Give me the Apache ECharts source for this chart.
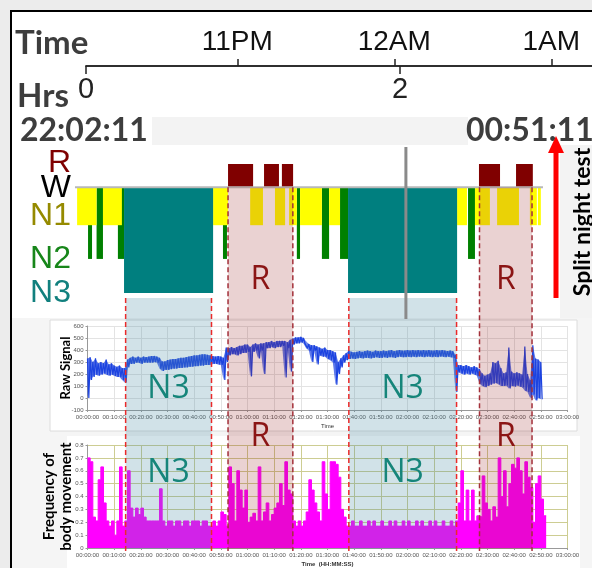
<!DOCTYPE html>
<html>
<head>
<meta charset="utf-8">
<script src="https://cdn.jsdelivr.net/npm/echarts@6/dist/echarts.min.js"></script>
<style>
html, body { margin: 0; padding: 0; background: #ececec; }
#main { width: 592px; height: 568px; }
</style>
</head>
<body>
<div id="main"></div>
<script>
// top time axes
var startClock = 22 + 2 / 60 + 11 / 3600;
var clockTicks = [23, 24, 25];
var clockNames = ['11PM', '12AM', '1AM'];
var hrsTicks = [0, 2];
var startLabel = '22:02:11';
var splitLabel = '00:51:11';

// hypnogram, spans in minutes from recording start
var stageNames = ['R', 'W', 'N1', 'N2', 'N3'];
var stageDepth = { R: -0.7, W: 0, N1: 1.15, N2: 2.17, N3: 3.2 };
var hypnoR = [[52.7, 62.1], [66.2, 71.8], [72.9, 77.1], [146.8, 154.7], [160.7, 167]];
var hypnoN1 = [[-3.9, 3.4], [5.8, 12.9], [47.1, 52.7], [61, 65.8], [70.3, 74.1], [75.6, 78.5],
    [79.7, 87.9], [90.6, 94.7], [138.6, 142.3], [145.3, 150.9], [153.6, 161.8], [165.9, 168.5], [168.9, 170]];
var hypnoN2 = [[0.2, 1.7], [3.4, 5.8], [11.4, 13.7], [50.8, 52.3], [78.5, 79.7], [87.9, 90.6],
    [94.7, 97.7], [142.7, 145.3]];
var hypnoN3 = [[13.7, 47.1], [97.7, 138.6]];
var wakeLine = [-4.7, 170.8];
var splitMark = 119.4;

// scored regions
var n3Bands = [[14.3, 46.5], [98, 138.4]];
var remBands = [[52.7, 77], [147, 166.7]];

// raw signal envelope, one pair per minute
var rawHi = [330, 340, 300, 330, 290, 300, 290, 320, 280, 290,
    270, 260, 270, 250, 250, 320, 335, 345, 335, 345,
    335, 345, 340, 345, 350, 350, 345, 335, 305, 305,
    315, 320, 325, 325, 330, 335, 335, 340, 345, 350,
    355, 355, 360, 365, 365, 360, 355, 350, 345, 350,
    345, 335, 420, 415, 425, 415, 425, 435, 435, 445,
    445, 425, 445, 455, 445, 455, 455, 465, 465, 475,
    465, 475, 475, 475, 475, 465, 485, 495, 505, 505,
    510, 500, 470, 450, 440, 440, 430, 420, 410, 420,
    400, 400, 390, 380, 300, 330, 355, 375, 395, 385,
    380, 385, 390, 385, 390, 395, 390, 385, 395, 390,
    390, 395, 390, 395, 400, 390, 395, 400, 395, 395,
    400, 395, 400, 395, 400, 395, 400, 395, 400, 395,
    395, 400, 395, 400, 395, 390, 395, 390, 360, 275,
    275, 265, 275, 265, 255, 265, 255, 240, 205, 185,
    195, 205, 300, 290, 310, 250, 205, 215, 420, 220,
    205, 215, 205, 195, 430, 200, 150, 440, 330, 320,
    300];
var rawLo = [0, 150, 175, 195, 185, 195, 205, 195, 185, 195,
    185, 175, 175, 150, 130, 255, 285, 285, 295, 295,
    285, 295, 295, 295, 295, 300, 295, 245, 225, 235,
    235, 240, 245, 245, 250, 250, 255, 255, 260, 260,
    265, 265, 270, 270, 275, 275, 275, 285, 285, 280,
    275, 150, 300, 355, 365, 365, 355, 365, 375, 375,
    385, 180, 385, 395, 330, 395, 200, 415, 415, 425,
    415, 425, 425, 435, 170, 415, 220, 445, 455, 455,
    465, 455, 415, 395, 300, 395, 280, 355, 345, 345,
    325, 315, 295, 110, 200, 255, 295, 315, 325, 330,
    325, 330, 335, 330, 335, 335, 330, 335, 340, 335,
    335, 340, 335, 340, 340, 335, 340, 345, 340, 340,
    345, 340, 345, 340, 345, 345, 340, 345, 345, 340,
    345, 340, 345, 345, 340, 345, 340, 335, 50, 215,
    205, 195, 205, 195, 205, 195, 185, 120, 100, 90,
    100, 110, 120, 125, 115, 100, 100, 105, 80, 100,
    95, 105, 95, 90, 60, 50, 0, 30, -20, 0,
    -10];

// body movement frequency, one value per minute
var moveFreq = [0.70, 0.67, 0.24, 0.21, 0.53, 0.63, 0.35, 0.21, 0.17, 0.21,
    0.10, 0.21, 0.63, 0.17, 0.21, 0.60, 0.31, 0.24, 0.31, 0.26,
    0.31, 0.24, 0.21, 0.21, 0.21, 0.21, 0.21, 0.46, 0.21, 0.17,
    0.21, 0.21, 0.17, 0.21, 0.21, 0.17, 0.21, 0.21, 0.17, 0.21,
    0.21, 0.21, 0.17, 0.21, 0.21, 0.17, 0.17, 0.21, 0.17, 0.21,
    0.28, 0.26, 0.17, 0.63, 0.50, 0.21, 0.60, 0.45, 0.31, 0.45,
    0.20, 0.24, 0.27, 0.21, 0.63, 0.21, 0.28, 0.35, 0.21, 0.26,
    0.31, 0.35, 0.50, 0.33, 0.67, 0.45, 0.42, 0.21, 0.17, 0.21,
    0.17, 0.21, 0.28, 0.53, 0.45, 0.35, 0.28, 0.21, 0.67, 0.42,
    0.30, 0.67, 0.67, 0.65, 0.55, 0.30, 0.24, 0.17, 0.17, 0.21,
    0.17, 0.17, 0.21, 0.17, 0.17, 0.21, 0.17, 0.21, 0.17, 0.17,
    0.21, 0.17, 0.17, 0.21, 0.17, 0.21, 0.17, 0.17, 0.21, 0.17,
    0.21, 0.17, 0.17, 0.21, 0.17, 0.21, 0.17, 0.17, 0.21, 0.17,
    0.21, 0.17, 0.17, 0.21, 0.17, 0.17, 0.21, 0.17, 0.21, 0.35,
    0.60, 0.21, 0.45, 0.21, 0.45, 0.21, 0.25, 0.24, 0.56, 0.35,
    0.30, 0.21, 0.32, 0.24, 0.70, 0.40, 0.60, 0.32, 0.50, 0.65,
    0.62, 0.70, 0.60, 0.42, 0.67, 0.55, 0.47, 0.20, 0.50, 0.56,
    0.38, 0.25];

var chart = echarts.init(document.getElementById('main'));

var PX_MIN = 480 / 180;
var PLOT_LEFT = 87.5;
var HRS_MAX = 3.223;
var BAND_BOTTOM = 549;
var RAW_BLUE = '#1c43e0';

function hms(v) {
    var h = Math.floor(v / 60), m = v % 60;
    return '0' + h + ':' + (m < 10 ? '0' : '') + m + ':00';
}

var rawData = [], rawEnvelope = [];
for (var i = 0; i < rawHi.length; i++) {
    rawData.push([i, rawHi[i]]);
    rawData.push([i + 0.5, rawLo[i]]);
    if (i < rawHi.length - 1) {
        rawEnvelope.push([i, rawHi[i], rawLo[i], rawHi[i + 1], rawLo[i + 1]]);
    }
}
var freqData = [];
for (var j = 0; j < moveFreq.length; j++) {
    freqData.push([j, moveFreq[j]]);
}
freqData.push([moveFreq.length, moveFreq[moveFreq.length - 1]]);

function stageSeries(spans, stage, color) {
    return {
        type: 'custom',
        xAxisIndex: 2,
        yAxisIndex: 1,
        data: spans,
        renderItem: function (params, api) {
            var top = stage === 'R' ? stageDepth.R : stageDepth.W;
            var bottom = stage === 'R' ? stageDepth.W : stageDepth[stage];
            var p0 = api.coord([api.value(0), top]);
            var p1 = api.coord([api.value(1), bottom]);
            return {
                type: 'rect',
                shape: { x: p0[0], y: p0[1], width: p1[0] - p0[0], height: p1[1] - p0[1] },
                style: { fill: color }
            };
        }
    };
}

function bandSeries(bands, kind) {
    var isRem = kind === 'R';
    return {
        type: 'custom',
        xAxisIndex: 2,
        yAxisIndex: 1,
        clip: false,
        z: 6,
        data: bands,
        renderItem: function (params, api) {
            var p0 = api.coord([api.value(0), isRem ? stageDepth.W : stageDepth.N3]);
            var p1 = api.coord([api.value(1), stageDepth.W]);
            var top = isRem ? p0[1] : p0[1] + 5;
            var cx = (p0[0] + p1[0]) / 2;
            var dash = { stroke: isRem ? '#a3303a' : '#ea2a2a', lineWidth: 1.5, lineDash: [5, 3] };
            var textColor = isRem ? '#8b1515' : '#16857a';
            var labelY = isRem ? [280, 437] : [389, 473];
            return {
                type: 'group',
                children: [
                    { type: 'rect', shape: { x: p0[0], y: top, width: p1[0] - p0[0], height: BAND_BOTTOM - top },
                      style: { fill: isRem ? 'rgba(150,30,30,0.2)' : 'rgba(70,140,165,0.25)' } },
                    { type: 'line', shape: { x1: p0[0], y1: top, x2: p0[0], y2: BAND_BOTTOM + 2 }, style: dash },
                    { type: 'line', shape: { x1: p1[0], y1: top, x2: p1[0], y2: BAND_BOTTOM + 2 }, style: dash },
                    { type: 'text', style: { text: kind, x: cx, y: labelY[0], align: 'center', verticalAlign: 'middle',
                      font: '32px "Open Sans"', fill: textColor } },
                    { type: 'text', style: { text: kind, x: cx, y: labelY[1], align: 'center', verticalAlign: 'middle',
                      font: '32px "Open Sans"', fill: textColor } }
                ]
            };
        }
    };
}

var stageColors = { R: '#7f0000', W: '#000000', N1: '#958a00', N2: '#17861a', N3: '#11807e' };
var stageLabelY = { R: 163, W: 188, N1: 216, N2: 259, N3: 293 };
var graphics = [
    { type: 'rect', z: -20, shape: { x: 0, y: 0, width: 592, height: 568 }, style: { fill: '#ececec' } },
    { type: 'rect', z: -19, shape: { x: 11, y: 11, width: 620, height: 620 }, style: { fill: '#ffffff', stroke: '#000', lineWidth: 2 } },
    { type: 'rect', z: -18, shape: { x: 152, y: 117, width: 316, height: 28 }, style: { fill: '#f3f3f3' } },
    { type: 'rect', z: -18, shape: { x: 560, y: 145, width: 40, height: 173 }, style: { fill: '#f3f3f3' } },
    { type: 'rect', z: -18, shape: { x: 12, y: 318, width: 590, height: 260 }, style: { fill: '#f5f5f5' } },
    { type: 'rect', z: -17, shape: { x: 50, y: 320, width: 527, height: 111 }, style: { fill: '#fff', stroke: '#dcdcdc' } },
    { type: 'rect', z: -17, shape: { x: 67, y: 436, width: 513, height: 140 }, style: { fill: '#fff' } },
    { type: 'text', x: 15, y: 43, style: { text: 'Time', font: 'bold 33px Lato', fill: '#3d3d3d', verticalAlign: 'middle' } },
    { type: 'text', x: 17, y: 96, style: { text: 'Hrs', font: 'bold 33px Lato', fill: '#3d3d3d', verticalAlign: 'middle' } },
    { type: 'text', x: 20, y: 131, style: { text: startLabel, font: 'bold 32px Lato', fill: '#3d3d3d', verticalAlign: 'middle' } },
    { type: 'text', x: 466, y: 131, style: { text: splitLabel, font: 'bold 32px Lato', fill: '#3d3d3d', verticalAlign: 'middle' } },
    { type: 'line', shape: { x1: 556, y1: 298, x2: 556, y2: 150 }, style: { stroke: '#ff0000', lineWidth: 5 } },
    { type: 'polygon', shape: { points: [[556, 136], [548, 153], [564, 153]] }, style: { fill: '#ff0000' } },
    { type: 'text', x: 583, y: 222, rotation: Math.PI / 2,
      style: { text: 'Split night test', font: 'bold 23px Lato', fill: '#000', align: 'center', verticalAlign: 'middle' } }
];
stageNames.forEach(function (s) {
    graphics.push({ type: 'text', x: 71, y: stageLabelY[s],
        style: { text: s, font: '32px "Liberation Sans"', fill: stageColors[s], align: 'right', verticalAlign: 'middle' } });
});

var smallLabel = { fontSize: 6, color: '#555', margin: 4 };

option = {
    animation: false,
    graphic: { elements: graphics },
    grid: [
        { left: 86, right: 0, top: 66, height: 0 },
        { left: PLOT_LEFT - 5 * PX_MIN, width: 177 * PX_MIN, top: 164, height: 129 },
        { left: PLOT_LEFT, width: 480, top: 326, height: 84 },
        { left: PLOT_LEFT, width: 480, top: 445, height: 104 }
    ],
    xAxis: [
        {
            gridIndex: 0, type: 'value', position: 'bottom', min: 0, max: HRS_MAX,
            axisLine: { lineStyle: { color: '#222', width: 1.5 } },
            axisTick: { customValues: hrsTicks, length: 8, lineStyle: { color: '#222', width: 1.5 } },
            axisLabel: { customValues: hrsTicks, fontSize: 29, color: '#222', margin: 9, fontFamily: 'Liberation Sans' },
            splitLine: { show: false }
        },
        {
            gridIndex: 0, type: 'value', position: 'top', min: startClock, max: startClock + HRS_MAX,
            axisLine: { lineStyle: { color: '#222', width: 1.5 } },
            axisTick: { customValues: clockTicks, length: 7, lineStyle: { color: '#222', width: 1.5 } },
            axisLabel: {
                customValues: clockTicks, fontSize: 28, color: '#111', margin: 10, fontFamily: 'Liberation Sans',
                formatter: function (v) { return clockNames[clockTicks.indexOf(v)]; }
            },
            splitLine: { show: false }
        },
        { gridIndex: 1, type: 'value', min: -5, max: 172, show: false },
        {
            gridIndex: 2, type: 'value', min: 0, max: 180, interval: 10,
            axisLine: { onZero: false, lineStyle: { color: '#999' } },
            axisTick: { length: 2 },
            axisLabel: { fontSize: 6, color: '#555', margin: 4, formatter: hms },
            splitLine: { lineStyle: { color: '#e3e3e3' } },
            name: 'Time', nameLocation: 'middle', nameGap: 13, nameTextStyle: { fontSize: 6, color: '#333' }
        },
        {
            gridIndex: 3, type: 'value', min: 0, max: 180, interval: 10,
            axisLine: { lineStyle: { color: '#999' } },
            axisTick: { length: 2 },
            axisLabel: { fontSize: 6, color: '#555', margin: 4, formatter: hms },
            splitLine: { lineStyle: { color: '#cdcd92' } },
            name: 'Time  (HH:MM:SS)', nameLocation: 'middle', nameGap: 13,
            nameTextStyle: { fontSize: 6, color: '#333', fontWeight: 'bold' }
        }
    ],
    yAxis: [
        { gridIndex: 0, type: 'value', show: false },
        { gridIndex: 1, type: 'value', min: -0.7, max: 3.2, inverse: true, show: false },
        {
            gridIndex: 2, type: 'value', min: -100, max: 600, interval: 100,
            axisLine: { show: true, lineStyle: { color: '#999' } },
            axisTick: { show: true, length: 2 },
            axisLabel: smallLabel,
            splitLine: { lineStyle: { color: '#e3e3e3' } },
            name: 'Raw Signal', nameLocation: 'middle', nameGap: 15, nameMoveOverlap: false,
            nameTextStyle: { fontSize: 13, fontWeight: 'bold', color: '#000', fontFamily: 'Lato' }
        },
        {
            gridIndex: 3, type: 'value', min: 0, max: 0.8, interval: 0.1,
            axisLine: { show: true, lineStyle: { color: '#999' } },
            axisTick: { show: true, length: 2 },
            axisLabel: smallLabel,
            splitLine: { lineStyle: { color: '#cdcd92' } },
            name: 'Frequency of\nbody movement', nameLocation: 'middle', nameGap: 13, nameMoveOverlap: false,
            nameTextStyle: { fontSize: 15, fontWeight: 'bold', color: '#000', fontFamily: 'Lato', lineHeight: 17 }
        }
    ],
    series: [
        { type: 'line', xAxisIndex: 0, yAxisIndex: 0, data: [] },
        stageSeries(hypnoN2, 'N2', '#008000'),
        stageSeries(hypnoN1, 'N1', '#ffff00'),
        stageSeries(hypnoN3, 'N3', '#007f7f'),
        stageSeries(hypnoR, 'R', '#800000'),
        {
            type: 'custom', xAxisIndex: 2, yAxisIndex: 1, data: [wakeLine],
            renderItem: function (params, api) {
                var a = api.coord([api.value(0), stageDepth.W]);
                var b = api.coord([api.value(1), stageDepth.W]);
                return { type: 'line', shape: { x1: a[0], y1: a[1], x2: b[0], y2: b[1] },
                         style: { stroke: '#b8b8b8', lineWidth: 2 } };
            }
        },
        {
            // filled envelope of the noisy raw signal
            type: 'custom', xAxisIndex: 3, yAxisIndex: 2, data: rawEnvelope,
            renderItem: function (params, api) {
                var t = api.value(0);
                var pts = [
                    api.coord([t, api.value(1)]), api.coord([t + 1, api.value(3)]),
                    api.coord([t + 1, api.value(4)]), api.coord([t, api.value(2)])
                ];
                return { type: 'polygon', shape: { points: pts },
                         style: { fill: RAW_BLUE, opacity: 0.7 } };
            }
        },
        {
            type: 'line', xAxisIndex: 3, yAxisIndex: 2, data: rawData,
            showSymbol: false, lineStyle: { color: RAW_BLUE, width: 1.2 }
        },
        {
            type: 'line', xAxisIndex: 4, yAxisIndex: 3, data: freqData, step: 'end',
            showSymbol: false, lineStyle: { color: '#ff00ff', width: 1 },
            areaStyle: { color: '#ff00ff', opacity: 1 }
        },
        bandSeries(n3Bands, 'N3'),
        bandSeries(remBands, 'R'),
        {
            type: 'custom', xAxisIndex: 2, yAxisIndex: 1, clip: false, z: 7, data: [[splitMark]],
            renderItem: function (params, api) {
                var p = api.coord([api.value(0), stageDepth.W]);
                return { type: 'line', shape: { x1: p[0], y1: 147, x2: p[0], y2: 319 },
                         style: { stroke: '#8a8a8a', lineWidth: 3 } };
            }
        }
    ]
};

chart.setOption(option);
</script>
</body>
</html>
